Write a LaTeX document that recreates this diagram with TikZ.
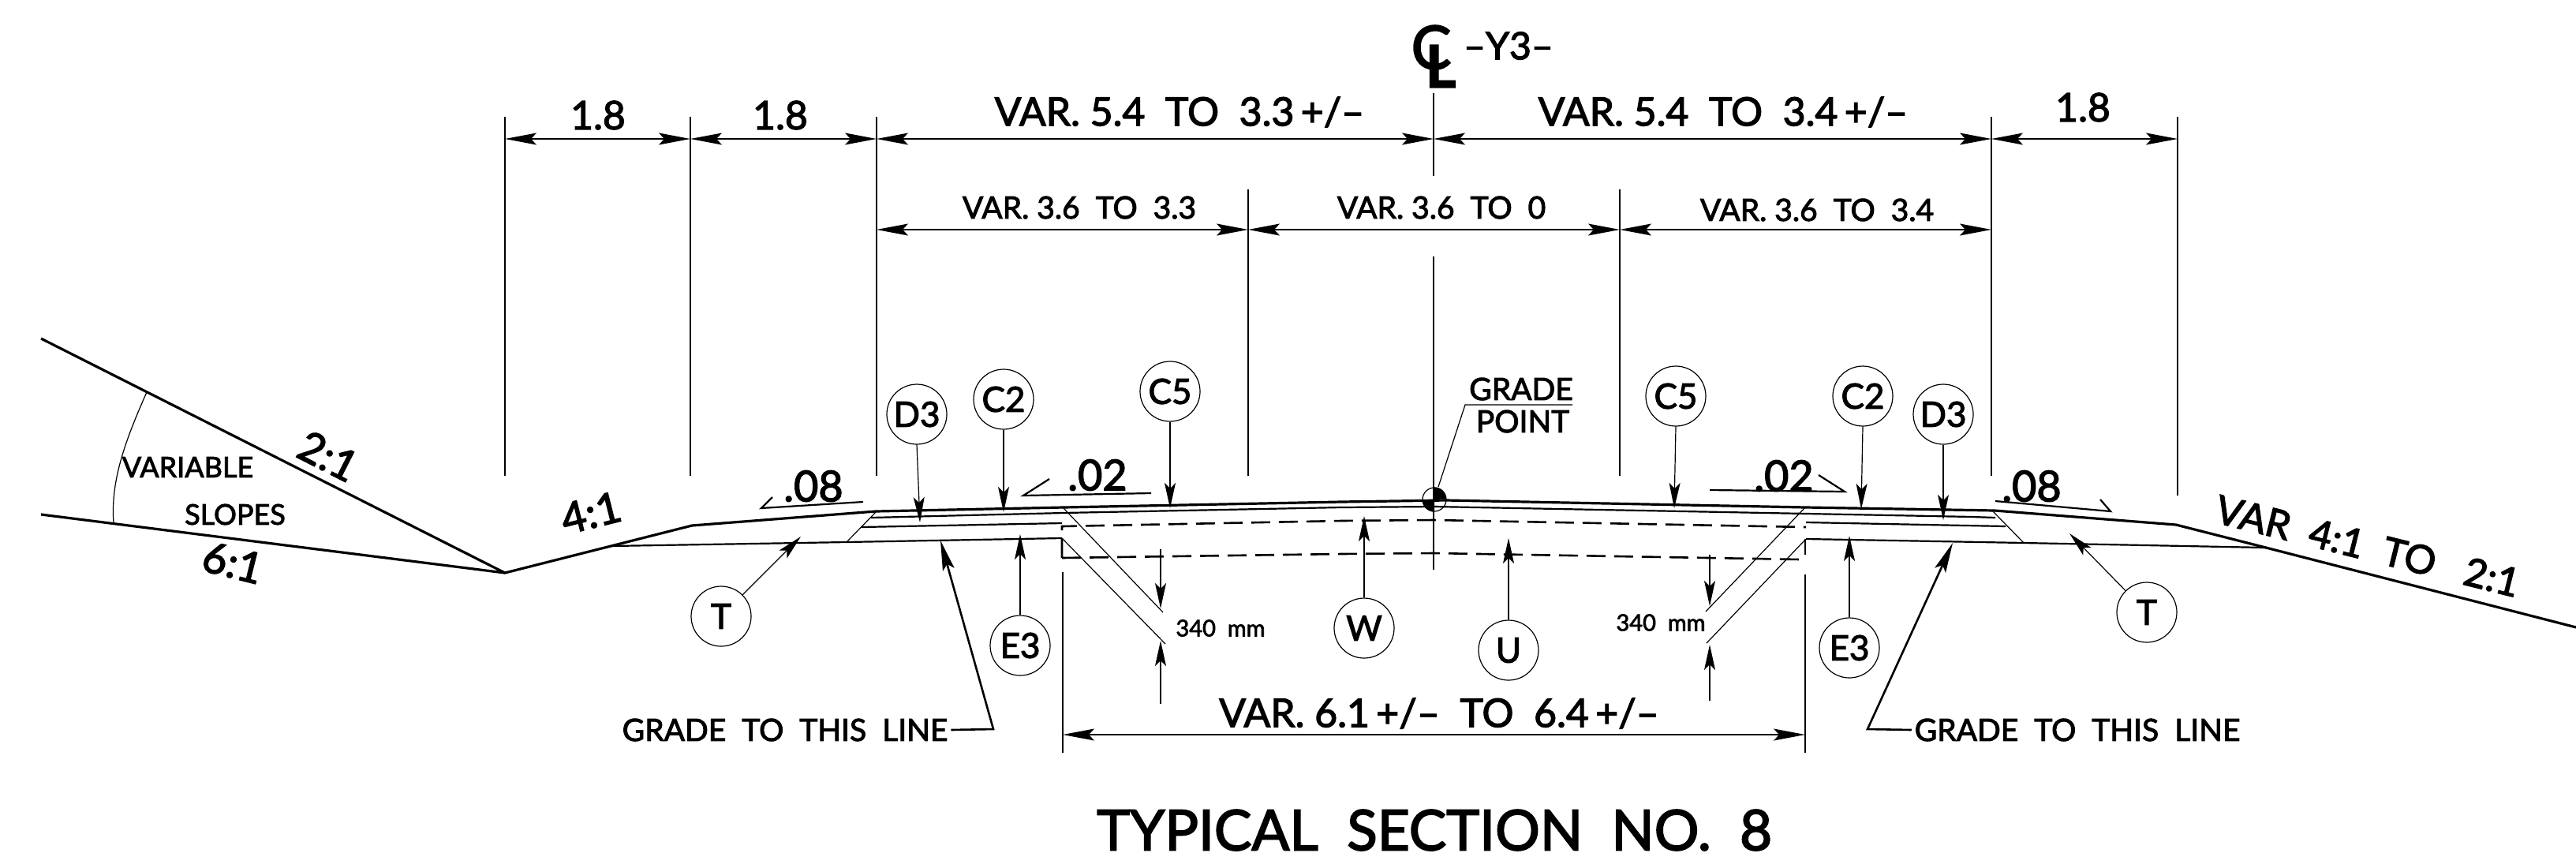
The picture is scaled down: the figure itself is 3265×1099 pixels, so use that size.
\documentclass[tikz,border=0pt]{standalone}
\usepackage{fontspec}
\setmainfont{Lato}[FakeBold=2.5]
\usetikzlibrary{arrows.meta}
\newcommand{\fs}[1]{\fontsize{#1pt}{#1pt}\selectfont}
\tikzset{
  x=0.5pt,y=-0.5pt,
  heavy/.style={line width=1.6pt},
  med/.style={line width=1.1pt},
  thin line/.style={line width=0.6pt},
  dash line/.style={line width=1.3pt,dash pattern=on 12pt off 5.5pt},
  tip/.style={-{Stealth[length=16pt,width=7pt,inset=3.5pt]}},
  dim/.style={line width=0.6pt,{Stealth[length=20pt,width=7.5pt,inset=3.5pt]}-{Stealth[length=20pt,width=7.5pt,inset=3.5pt]}},
  bigtip/.style={line width=1.3pt,-{Stealth[length=19pt,width=7.5pt,inset=3.5pt]}},
  callout/.style={circle,draw,line width=0.6pt,minimum size=38pt,inner sep=0pt,fill=white,font=\fs{22}},
  lab/.style={inner sep=0pt,font=\fs{25}},
  lab small/.style={inner sep=0pt,outer sep=2pt,font=\fs{19.5}},
  lab big/.style={inner sep=0pt,font=\fs{27}},
  lab tiny/.style={inner sep=0pt,font=\fs{14.5}},
}
\begin{document}
\begin{tikzpicture}
\useasboundingbox (0,0) rectangle (3265,1099);
% named points
\foreach \n/\x/\y in {a/640/148,b/875/148,c/1111/148,d/1817/118,e/2524/148,f/2760/148,
  g/1582/240,h/2053/240,
  ac/640/176,bc/875/176,cc/1111/176,dc/1817/176,ec/2524/176,fc/2760/176,
  cm/1111/291,gm/1582/291,hm/2053/291,em/2524/291,
  ln/1347/931,rn/2288/931,
  ll/52/429,lv/640/726,ls/52/652,lk/877/666,lj/775/692,lm/1073/687,
  rk/2758/665,rj/2872/694,re/3265/795,
  tD/1166/662,tC/1272/649,tE/1483/644,uD/2463/659,uC/2359/645,uE/2122/644,
  tT/1015/680,uT/2623/676,tF/1293/677,uF/2344/679,tW/1729/654,tU/1912/682,
  gl/1192/685,gr/2475/688,glb/1259/924,grb/2367/924}
  {\coordinate (\n) at (\x,\y);}
% extension lines
\foreach \p/\q in {640/603,875/603,1111/603,2524/603,2760/628}
  \draw[thin line] (\p,148) -- (\p,\q);
\draw[thin line] (d) -- (1817,223);
\draw[thin line] (1817,325) -- (1817,722);
\draw[thin line] (g) -- (1582,603);
\draw[thin line] (h) -- (2053,603);
\draw[line width=0.8pt] (1347,725) -- (1347,954);
\draw[line width=0.8pt] (2288,728) -- (2288,954);
% dimensions
\draw[dim] (ac)--(bc); \draw[dim] (bc)--(cc); \draw[dim] (cc)--(dc);
\draw[dim] (dc)--(ec); \draw[dim] (ec)--(fc);
\draw[dim] (cm)--(gm); \draw[dim] (gm)--(hm); \draw[dim] (hm)--(em);
\draw[dim] (ln)--(rn);
% dimension text
\node[lab] (t1) at (758,146) {1.8};
\node[lab] (t2) at (989,146) {1.8};
\node[lab] (t3) at (2640,136) {1.8};
\node[lab] (t4) at (1495,142) {VAR. 5.4\ \ TO\ \ 3.3\,+/–};
\node[lab] (t5) at (2184,142) {VAR. 5.4\ \ TO\ \ 3.4\,+/–};
\node[lab small] (t6) at (1368,263) {VAR. 3.6\ \ TO\ \ 3.3};
\node[lab small] (t7) at (1827,263) {VAR. 3.6\ \ TO\ \ 0};
\node[lab small] (t8) at (2303,266) {VAR. 3.6\ \ TO\ \ 3.4};
\node[lab] (t9) at (1824,904) {VAR. 6.1\,+/–\ \ TO\ \ 6.4\,+/–};
% centre line symbol
\node[inner sep=0pt,font=\fs{38}] (cls) at (1814,60) {C};
\node[inner sep=0pt,font=\fs{37}\bfseries] (cll) at (1826,84) {L};
\node[inner sep=0pt,font=\fs{24}] (y3) at (1912,58) {–Y3–};
% ground lines
\draw[heavy,line join=round] (ll) -- (lv) -- (lk) -- (1110,648) -- (1348,643) -- (1700,636) -- (1833,634) -- (2289,643) -- (2528,647) -- (rk) -- (rj) -- (re);
\draw[heavy] (ls) -- (lv);
\draw[med] (lj) -- (lm) -- (1346,682);
\draw[med] (2289,683) -- (2565,688) -- (rj);
\draw[med] (1104,656) -- (1348,650) -- (1700,643) -- (1818,642) -- (2500,655) -- (2529,656);
\draw[med] (1092,668) -- (1346,663);
\draw[med] (2289,662) -- (2542,667);
\draw[thin line] (1110,649) -- (lm);
\draw[thin line] (2526,648) -- (2565,688);
\draw[thin line] (1348,644) -- (1474,776);
\draw[thin line] (1346,682) -- (1477,816);
\draw[thin line] (2288,643) -- (2162,775);
\draw[thin line] (2288,684) -- (2163,815);
% dashes
\draw[dash line] (1346,707) -- (1346,667) -- (1700,660) -- (1817,659) -- (2289,668);
\draw[dash line] (1346,707) -- (1700,702) -- (1817,701) -- (2282,709);
\draw[med] (2288,683) -- (2288,703);
% slope symbols
\draw[med] (979,630) -- (965,644) -- (1094,636);
\draw[med] (1330,607) -- (1297,628) -- (1459,625);
\draw[med] (2167,621) -- (2338,623) -- (2305,602);
\draw[med] (2529,635) -- (2675,648) -- (2662,633);
\node[lab big] (s1) at (1031,616) {.08};
\node[lab big] (s2) at (1391,602) {.02};
\node[lab big] (s3) at (2261,603) {.02};
\node[lab big] (s4) at (2575,616) {.08};
% slope labels
\node[lab big,rotate=-27] (r1) at (416,578) {2:1};
\node[lab big,rotate=-14] (r2) at (295,713) {6:1};
\node[lab big,rotate=14] (r3) at (749,650) {4:1};
\node[lab,rotate=-14] (r4) at (3001,692) {VAR\ \ 4:1\ \ TO\ \ \ 2:1};
\node[inner sep=0pt,font=\fs{18}] (r5) at (238,592) {VARIABLE};
\node[inner sep=0pt,font=\fs{18}] (r6) at (298,652) {SLOPES};
\draw[thin line] (186,497) .. controls (158,560) and (140,610) .. (144,663);
% call-outs
\node[callout] (D3a) at (1162,525) {D3};
\node[callout] (C2a) at (1272,506) {C2};
\node[callout] (C5a) at (1483,496) {C5};
\node[callout] (C5b) at (2124,502) {C5};
\node[callout] (C2b) at (2361,502) {C2};
\node[callout] (D3b) at (2463,525) {D3};
\node[callout] (Ta) at (914,781) {T};
\node[callout] (Tb) at (2721,776) {T};
\node[callout] (E3a) at (1293,818) {E3};
\node[callout] (E3b) at (2344,821) {E3};
\node[callout] (W) at (1729,796) {W};
\node[callout] (U) at (1912,824) {U};
\draw[tip,thin line] (D3a.south) -- (tD);
\draw[tip,thin line] (C2a.south) -- (tC);
\draw[tip,thin line] (C5a.south) -- (tE);
\draw[tip,thin line] (C5b.south) -- (uE);
\draw[tip,thin line] (C2b.south) -- (uC);
\draw[tip,thin line] (D3b.south) -- (uD);
\draw[tip,thin line] (Ta) -- (tT);
\draw[tip,thin line] (Tb) -- (uT);
\draw[tip,thin line] (E3a.north) -- (tF);
\draw[tip,thin line] (E3b.north) -- (uF);
\draw[tip,thin line] (W.north) -- (tW);
\draw[tip,thin line] (U.north) -- (tU);
% 340 mm
\node[lab tiny] (m1) at (1547,796) {340\ \ mm};
\node[lab tiny] (m2) at (2105,789) {340\ \ mm};
\coordinate (m1a) at (1471,696); \coordinate (m1b) at (1471,771);
\coordinate (m1c) at (1471,892); \coordinate (m1d) at (1471,812);
\coordinate (m2a) at (2167,703); \coordinate (m2b) at (2167,768);
\coordinate (m2c) at (2167,888); \coordinate (m2d) at (2167,817);
\draw[tip,thin line] (m1a) -- (m1b);
\draw[tip,thin line] (m1c) -- (m1d);
\draw[tip,thin line] (m2a) -- (m2b);
\draw[tip,thin line] (m2c) -- (m2d);
% grade to this line
\node[lab small] (g1) at (995,925) {GRADE\ \ TO\ \ THIS\ \ LINE};
\node[lab small] (g2) at (2633,925) {GRADE\ \ TO\ \ THIS\ \ LINE};
\draw[bigtip] (g1.east) -- (glb) -- (gl);
\draw[bigtip] (g2.west) -- (grb) -- (gr);
% grade point
\node[lab small] (gp1) at (1928,493) {GRADE};
\node[lab small] (gp2) at (1930,534) {POINT};
\coordinate (gpl) at (1857,513); \coordinate (gpr) at (1993,513);
\draw[thin line] (gpr) -- (gpl) -- (1823,617);
\node[circle,draw,line width=0.6pt,minimum size=15pt,inner sep=0pt] (gpc) at (1818,633) {};
\fill (gpc.center) -- (gpc.north) arc[start angle=90,end angle=0,radius=7.5pt] -- cycle;
\fill (gpc.center) -- (gpc.south) arc[start angle=270,end angle=180,radius=7.5pt] -- cycle;
% title
\node[inner sep=0pt,font=\fs{35.5}] (title) at (1818,1052) {TYPICAL\ \ SECTION\ \ NO.\ \ 8};
\end{tikzpicture}
\end{document}
